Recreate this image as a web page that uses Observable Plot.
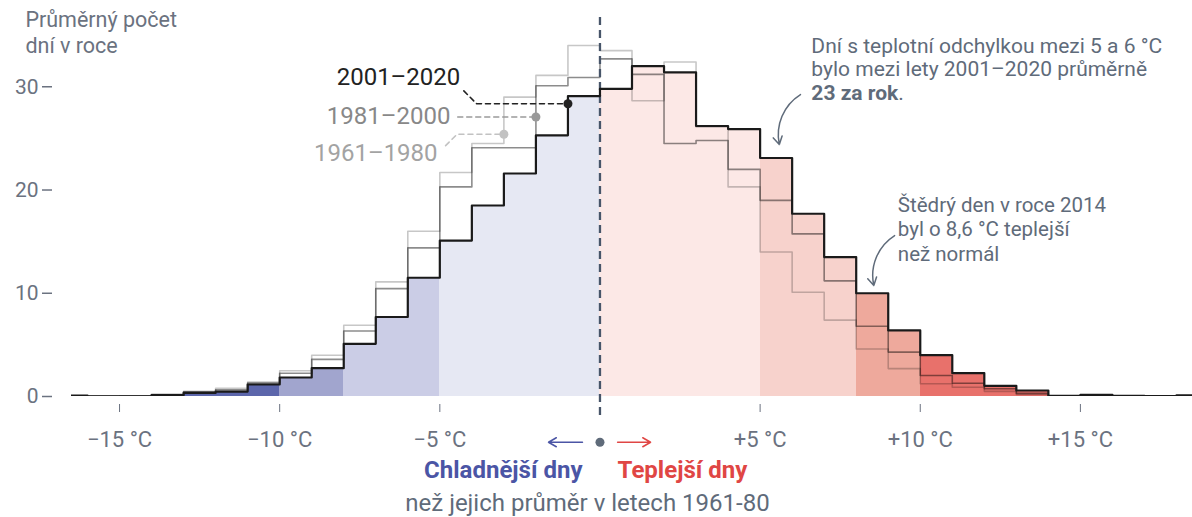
<!DOCTYPE html>
<html><head><meta charset="utf-8">
<script src="https://cdn.jsdelivr.net/npm/d3@7"></script>
<script src="https://cdn.jsdelivr.net/npm/@observablehq/plot@0.6"></script>
<style>
html,body{margin:0;padding:0;background:#fff;}
#chart{width:1192px;height:517px;}
</style></head><body><div id="chart"></div>
<script>
// bins: [start, start+1) °C deviation from 1961–80 daily mean
const binStart = [-17,-16,-15,-14,-13,-12,-11,-10,-9,-8,-7,-6,-5,-4,-3,-2,-1,0,1,2,3,4,5,6,7,8,9,10,11,12,13,14,15,16,17,18];
const days2001_2020 = [0.08,0.02,0.02,0.13,0.35,0.48,1.16,1.84,2.74,5.1,7.7,11.5,15.1,18.5,21.6,25.3,29.1,29.8,32.0,31.4,26.2,25.9,23.1,17.7,13.5,10.0,6.4,4.0,2.26,1.03,0.58,0.06,0.16,0.06,0.03,0.1];
const days1981_2000 = [0.03,0.03,0.05,0.18,0.45,0.64,1.3,2.25,3.6,6.35,10.45,14.4,20.3,24.1,24.1,30.1,30.9,32.7,31.2,24.5,24.8,22.0,19.0,15.75,11.2,6.8,4.3,2.03,1.29,0.75,0.3,0.05,0.04,0.02,0.02,0.02];
const days1961_1980 = [0.04,0.04,0.06,0.2,0.5,0.8,1.4,2.5,4.0,6.9,11.1,16.0,21.7,24.5,29.0,31.1,34.0,33.5,28.65,32.4,26.1,20.3,14.0,10.1,7.4,4.6,2.7,1.23,0.9,0.5,0.2,0.03,0.02,0.01,0.01,0.01];
const seriesNames = ["2001–2020","1981–2000","1961–1980"];
const xTicks = [-15,-10,-5,5,10,15];
const xTickLabels = ["−15 °C","−10 °C","−5 °C","+5 °C","+10 °C","+15 °C"];
const yTicks = [0,10,20,30];
const yTitle = "Průměrný počet\ndní v roce";
const note1 = "Dní s teplotní odchylkou mezi 5 a 6 °C\nbylo mezi lety 2001–2020 průměrně\n23 za rok.";
const note2 = "Štědrý den v roce 2014\nbyl o 8,6 °C teplejší\nnež normál";
const colderLabel = "Chladnější dny";
const warmerLabel = "Teplejší dny";
const baseLabel = "než jejich průměr v letech 1961-80";

// styles
const bandEdges = [-10,-8,-5,0,5,8,10];
const bandColors = ["#5c66ab","#a1a5ce","#cbcde6","#e6e8f3","#fce8e6","#f7d2cc","#eea99c","#e8716b"];
const textGray = "#5f6b7a";
const axisGray = "#6b7280";

const bins = binStart.map((x,i)=>({x, v: days2001_2020[i]}));
function steps(vals){
  const pts = binStart.map((x,i)=>({x, y: vals[i]}));
  pts.push({x: binStart[binStart.length-1]+1, y: vals[vals.length-1]});
  return pts;
}
const fmtX = d => xTickLabels[xTicks.indexOf(d)];

// annotation placements (data units)
const labelPos = [
  {t: seriesNames[0], x: -4.36, y: 30.9, c: "#222"},
  {t: seriesNames[1], x: -4.67, y: 27.1, c: "#888"},
  {t: seriesNames[2], x: -5.07, y: 23.6, c: "#a3a3a3"}
];
const leaders = [
  {pts: [[-4.25,29.6],[-3.85,28.35],[-1,28.35]], c: "#222"},
  {pts: [[-4.44,27.07],[-2,27.07]], c: "#9a9a9a"},
  {pts: [[-4.82,24.3],[-4.46,25.4],[-3,25.4]], c: "#c2c2c2"}
];
const leaderPts = leaders.flatMap((l,i)=>l.pts.map(p=>({x:p[0],y:p[1],s:i,c:l.c})));
const dots = leaders.map(l=>({x:l.pts[l.pts.length-1][0], y:l.pts[l.pts.length-1][1], c:l.c}));

const plot = Plot.plot({
  width: 1192, height: 517,
  marginLeft: 71, marginRight: 0, marginTop: 14, marginBottom: 121,
  style: {fontFamily: "Roboto, 'Noto Sans', sans-serif", fontSize: "20px", background: "#fff", overflow: "visible"},
  x: {domain: [-16.5, 18.5], axis: null},
  y: {domain: [0, 37], axis: null},
  marks: [
    Plot.rectY(bins, {x1: "x", x2: d=>d.x+1, y: "v", inset: 0, clip: true,
      fill: d => bandColors[d3.bisectRight(bandEdges, d.x)], shapeRendering: "crispEdges"}),
    Plot.line(steps(days1961_1980), {x:"x", y:"y", curve:"step-after", stroke:"#000", strokeOpacity:0.22, strokeWidth:1.6, clip:true}),
    Plot.line(steps(days1981_2000), {x:"x", y:"y", curve:"step-after", stroke:"#000", strokeOpacity:0.45, strokeWidth:1.6, clip:true}),
    Plot.ruleX([0], {y1: -1.85, y2: 37.2, stroke: "#475569", strokeWidth: 2.3, strokeDasharray: "8,5"}),
    Plot.line(steps(days2001_2020), {x:"x", y:"y", curve:"step-after", stroke:"#1a1a1a", strokeWidth:2.2, clip:true}),
    Plot.axisX({ticks: xTicks, tickFormat: () => "", tickSize: 8, dy: 8, stroke: axisGray, label: null}),
    Plot.axisX({ticks: xTicks, tickFormat: fmtX, tickSize: 0, tickPadding: 35, fontSize: 22, fill: axisGray, label: null}),
    Plot.axisY({ticks: yTicks, tickSize: 10, tickPadding: 4, dx: -19, fontSize: 21, fill: axisGray, stroke: axisGray, strokeWidth: 1.5, label: null}),
    Plot.text([yTitle], {x: -17.94, y: 35.35, text: d=>d, textAnchor: "start", lineAnchor: "middle", lineHeight: 1.2, fontSize: 21.5, fill: axisGray}),
    // series labels and leaders
    Plot.text(labelPos, {x:"x", y:"y", text:"t", fill:"c", textAnchor:"end", fontSize: 24}),
    Plot.line(leaderPts, {x:"x", y:"y", z:"s", stroke:"c", strokeWidth:1.6, strokeDasharray:"5,4"}),
    Plot.dot(dots, {x:"x", y:"y", r:4.5, fill:"c"}),
    // annotations
    Plot.text([note1], {x: 6.6, y: 31.77, text: d=>d, textAnchor: "start", lineAnchor: "middle", lineHeight: 1.12, fontSize: 21, fill: textGray}),
    Plot.arrow([0], {x1: 6.26, y1: 29.25, x2: 5.6, y2: 24.4, bend: -35, stroke: textGray, strokeWidth: 1.5, headLength: 9}),
    Plot.text([note2], {x: 9.3, y: 16.27, text: d=>d, textAnchor: "start", lineAnchor: "middle", lineHeight: 1.2, fontSize: 20.5, fill: textGray}),
    Plot.arrow([0], {x1: 9.2, y1: 15.59, x2: 8.55, y2: 10.75, bend: -35, stroke: textGray, strokeWidth: 1.5, headLength: 9}),
    // bottom legend
    Plot.arrow([0], {x1: -0.546, y1: -4.43, x2: -1.607, y2: -4.43, stroke: "#4b55a5", strokeWidth: 1.5, headLength: 9}),
    Plot.arrow([0], {x1: 0.55, y1: -4.43, x2: 1.58, y2: -4.43, stroke: "#e04644", strokeWidth: 1.5, headLength: 9}),
    Plot.dot([0], {x: 0, y: -4.43, r: 4.5, fill: textGray}),
    Plot.text([colderLabel], {x: -0.546, y: -7.17, text: d=>d, textAnchor: "end", fontSize: 24, fontWeight: 700, fill: "#4b55a5"}),
    Plot.text([warmerLabel], {x: 0.55, y: -7.17, text: d=>d, textAnchor: "start", fontSize: 24, fontWeight: 700, fill: "#e04644"}),
    Plot.text([baseLabel], {x: -0.39, y: -10.3, text: d=>d, textAnchor: "middle", fontSize: 24, fill: textGray})
  ]
});
d3.select(plot).selectAll("text, tspan").each(function(){
  if (this.childElementCount === 0 && this.textContent === "23 za rok.") {
    this.textContent = "";
    d3.select(this).append("tspan").attr("font-weight", "700").text("23 za rok");
    d3.select(this).append("tspan").text(".");
  }
});
document.getElementById("chart").appendChild(plot);
</script></body></html>
